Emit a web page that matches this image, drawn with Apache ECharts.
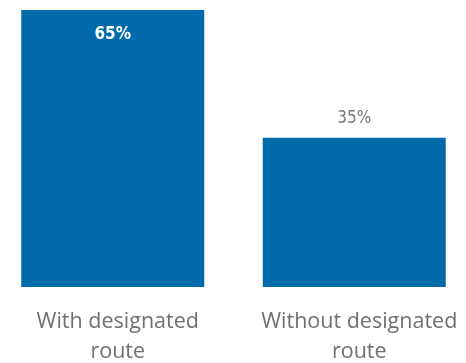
<!DOCTYPE html>
<html>
<head>
<meta charset="utf-8">
<script src="https://cdn.jsdelivr.net/npm/echarts@6/dist/echarts.min.js"></script>
<style>
  html, body { margin: 0; padding: 0; background: #fff; }
  #main { width: 466px; height: 363px; }
</style>
</head>
<body>
<div id="main"></div>
<script>
// chart data
const categories = ['With designated\nroute', 'Without designated\nroute'];
const shares = [65, 35];

const chart = echarts.init(document.getElementById('main'));

chart.setOption({
  animation: false,
  grid: { left: -8, right: -9, top: 10, bottom: 76, outerBoundsMode: 'none', containLabel: false },
  xAxis: {
    type: 'category',
    data: categories,
    axisLine: { show: false },
    axisTick: { show: false },
    axisLabel: {
      interval: 0,
      color: '#707070',
      fontFamily: 'Open Sans',
      fontSize: 21.5,
      lineHeight: 30,
      margin: 20,
      padding: [0, 0, 0, 10]
    }
  },
  yAxis: {
    type: 'value',
    min: 0,
    max: 65,
    show: false,
    splitLine: { show: false }
  },
  series: [{
    type: 'bar',
    barWidth: 183,
    data: shares.map((v, i) => ({
      value: v,
      label: i === 0
        ? { position: 'insideTop', distance: 16, color: '#fff', fontWeight: 'bold' }
        : { position: 'top', distance: 11, color: '#777' }
    })),
    itemStyle: { color: '#016aa8' },
    label: {
      show: true,
      formatter: '{c}%',
      fontFamily: 'DejaVu Sans Condensed',
      fontSize: 17
    }
  }]
});
</script>
</body>
</html>
